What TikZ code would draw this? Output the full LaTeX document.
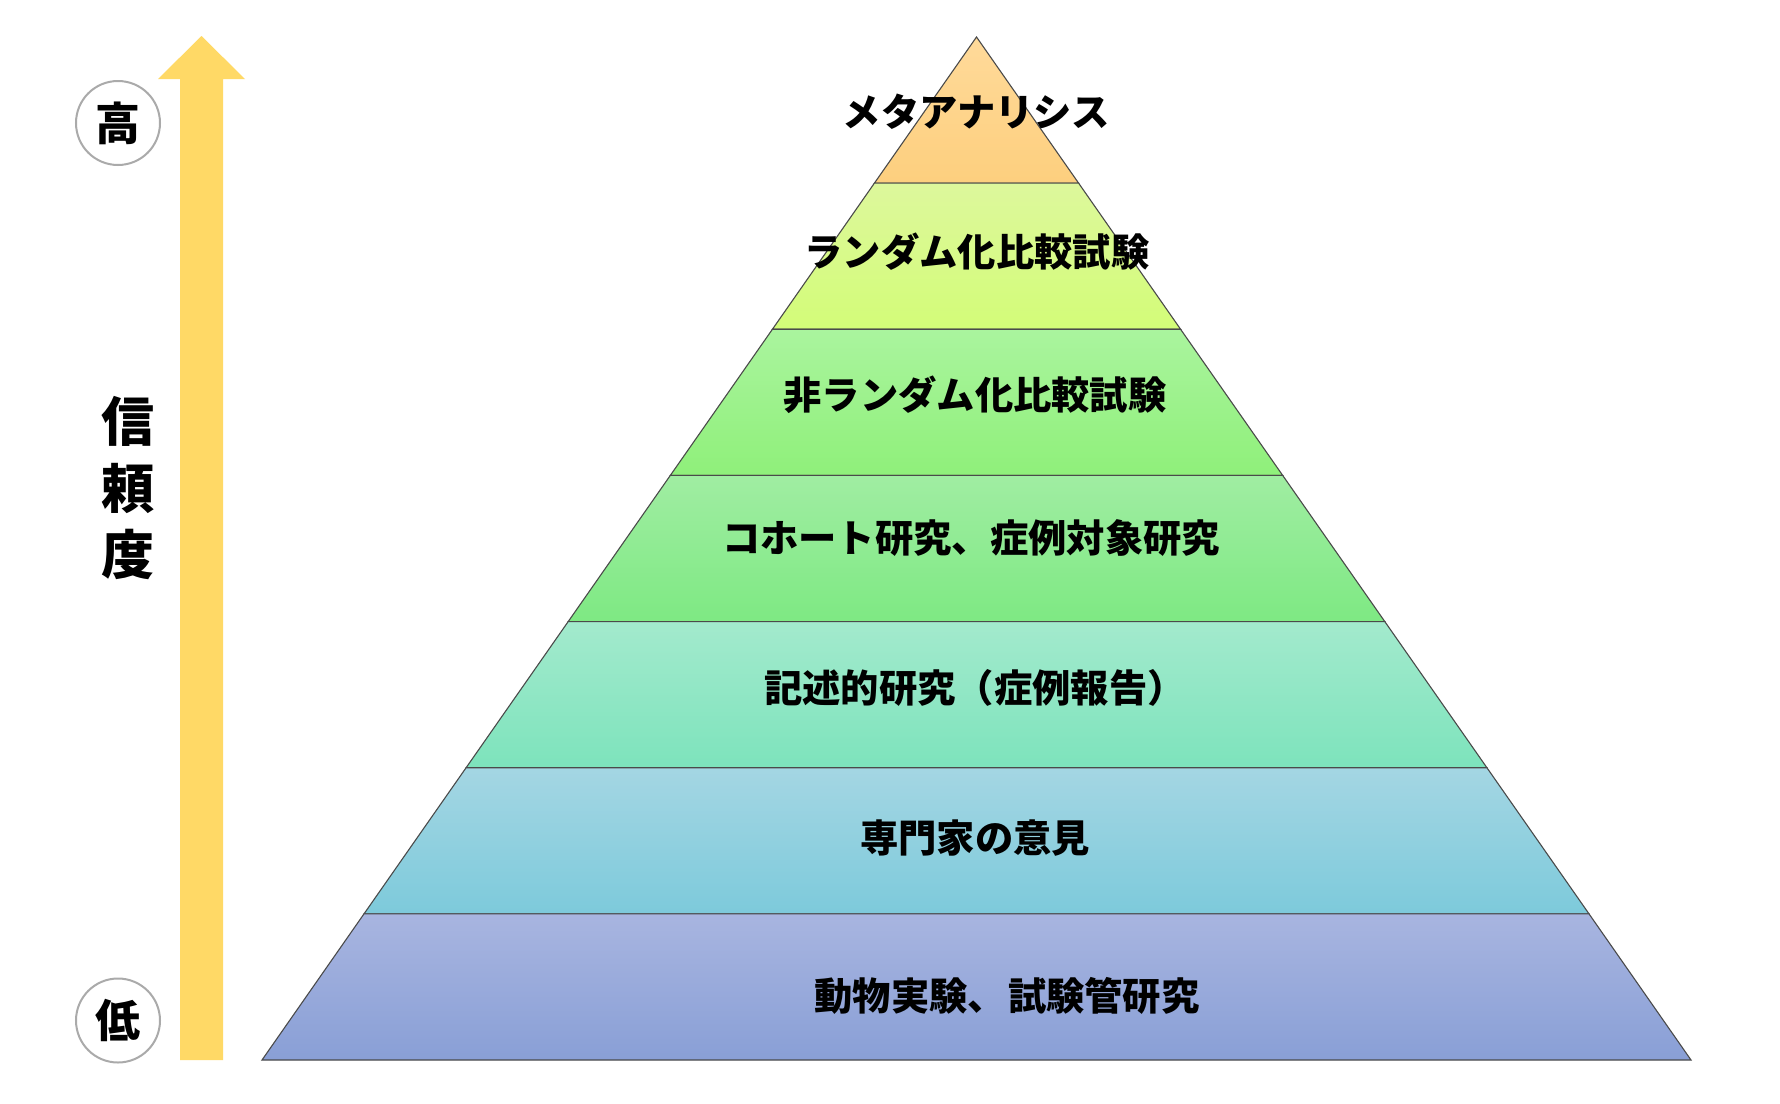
\documentclass[tikz,border=0pt]{standalone}
\usepackage{fontspec}
\setmainfont{Noto Sans CJK JP}
\definecolor{arrowyellow}{HTML}{FFD966}
\definecolor{edgegray}{HTML}{4A4A4A}
\definecolor{ringgray}{HTML}{AAAAAA}
\definecolor{aT}{HTML}{FFDA9A}\definecolor{aB}{HTML}{FDCF7E}
\definecolor{bT}{HTML}{DDF89C}\definecolor{bB}{HTML}{D3FC78}
\definecolor{cT}{HTML}{AAF49E}\definecolor{cB}{HTML}{8FF07A}
\definecolor{dT}{HTML}{A0EDA2}\definecolor{dB}{HTML}{7EE983}
\definecolor{eT}{HTML}{A3EACD}\definecolor{eB}{HTML}{7DE3BC}
\definecolor{fT}{HTML}{A4D6E3}\definecolor{fB}{HTML}{7DCADB}
\definecolor{gT}{HTML}{A8B5E0}\definecolor{gB}{HTML}{899FD6}
\begin{document}
\begin{tikzpicture}[x=1pt,y=-1pt,
  layer/.style={draw=edgegray,line width=1.1pt,line join=miter},
  lvltext/.style={inner sep=0pt,text height=33.7pt,text depth=4.6pt,
    font=\fontsize{38.3}{45}\selectfont\bfseries,text=black},
  reltext/.style={inner sep=0pt,text height=46.6pt,text depth=6.4pt,
    font=\fontsize{53}{60}\selectfont\bfseries,text=black},
  ring/.style={circle,draw=ringgray,line width=2pt,fill=white,minimum size=84pt,inner sep=0pt,
    font=\fontsize{45}{50}\selectfont\bfseries},
]
\useasboundingbox (0,0) rectangle (1780,1103);
\fill[white] (0,0) rectangle (1780,1103);

% arrow
\fill[arrowyellow] (180,1060) -- (180,79) -- (158,79) -- (201.5,36) -- (245,79) -- (223,79) -- (223,1060) -- cycle;

% pyramid layers
\path[layer,top color=aT,bottom color=aB] (976.5,37) -- (1078.6,183.14) -- (874.4,183.14) -- cycle;
\path[layer,top color=bT,bottom color=bB] (874.4,183.14) -- (1078.6,183.14) -- (1180.6,329.29) -- (772.4,329.29) -- cycle;
\path[layer,top color=cT,bottom color=cB] (772.4,329.29) -- (1180.6,329.29) -- (1282.7,475.43) -- (670.3,475.43) -- cycle;
\path[layer,top color=dT,bottom color=dB] (670.3,475.43) -- (1282.7,475.43) -- (1384.8,621.57) -- (568.2,621.57) -- cycle;
\path[layer,top color=eT,bottom color=eB] (568.2,621.57) -- (1384.8,621.57) -- (1486.9,767.71) -- (466.1,767.71) -- cycle;
\path[layer,top color=fT,bottom color=fB] (466.1,767.71) -- (1486.9,767.71) -- (1589.0,913.86) -- (364.0,913.86) -- cycle;
\path[layer,top color=gT,bottom color=gB] (364.0,913.86) -- (1589.0,913.86) -- (1691,1060) -- (262,1060) -- cycle;

% level labels
\node[lvltext] (l1) at (976.5,112) {メタアナリシス};
\node[lvltext] (l2) at (977,252) {ランダム化比較試験};
\node[lvltext] (l3) at (975,395) {非ランダム化比較試験};
\node[lvltext] (l4) at (971,538) {コホート研究、症例対象研究};
\node[lvltext] (l5) at (975,688) {記述的研究（症例報告）};
\node[lvltext] (l6) at (975,838) {専門家の意見};
\node[lvltext] (l7) at (1007,996) {動物実験、\hspace{2pt}試験管研究};

% reliability
\node[reltext] (r1) at (128,421) {信};
\node[reltext] (r2) at (128,488) {頼};
\node[reltext] (r3) at (128,554) {度};

% high / low
\node[ring] (high) at (118,123) {高};
\node[ring] (low) at (118,1020.5) {低};
\end{tikzpicture}
\end{document}
